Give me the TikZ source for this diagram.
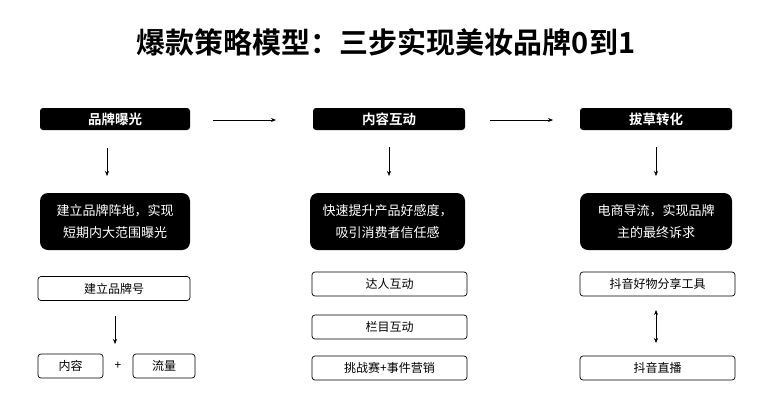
\documentclass[tikz,border=0pt]{standalone}
\usepackage{fontspec}
\setmainfont{Noto Sans CJK SC}
\newfontfamily\cjkb{Noto Sans CJK SC Bold}
\usetikzlibrary{arrows.meta}
\begin{document}
\begin{tikzpicture}[x=1pt,y=-1pt,
 hdr/.style={fill=black,rounded corners=3pt,text=white,font=\cjkb\fontsize{13.5}{15}\selectfont,minimum height=22pt,inner sep=0pt},
 blk/.style={fill=black,rounded corners=8pt,text=white,font=\fontsize{13}{22}\selectfont,minimum height=57pt,inner sep=0pt,align=center},
 wbox/.style={draw=black,line width=0.7pt,rounded corners=3pt,font=\fontsize{12}{14}\selectfont,minimum height=24pt,inner sep=0pt},
 arr/.style={-{Stealth[length=5pt,width=4pt]},line width=0.6pt}]
\useasboundingbox (0,0) rectangle (776,400);
\node[font=\cjkb\fontsize{29}{32}\selectfont] (title) at (386,42) {爆款策略模型：三步实现美妆品牌0到1};
% column 1
\node[hdr,minimum width=150pt] (h1) at (115,119) {品牌曝光};
\node[blk,minimum width=150pt] (b1) at (115,221.5) {建立品牌阵地，实现\\短期内大范围曝光};
\node[wbox,minimum width=152pt] (w1) at (114,288.5) {建立品牌号};
\node[wbox,minimum width=65pt] (nr) at (70.5,366) {内容};
\node[font=\fontsize{12}{14}\selectfont] (plus) at (118,366) {+};
\node[wbox,minimum width=62pt] (ll) at (164,366) {流量};
\coordinate (a1s) at (107,148); \coordinate (a1e) at (107,176);
\draw[arr] (a1s) -- (a1e);
\coordinate (a2s) at (115,316); \coordinate (a2e) at (115,344);
\draw[arr] (a2s) -- (a2e);
% column 2
\node[hdr,minimum width=152pt] (h2) at (389,119) {内容互动};
\node[blk,minimum width=155pt] (b2) at (387.5,221.5) {快速提升产品好感度，\\吸引消费者信任感};
\node[wbox,minimum width=155pt] (w21) at (389.5,284) {达人互动};
\node[wbox,minimum width=155pt] (w22) at (389.5,327) {栏目互动};
\node[wbox,minimum width=155pt] (w23) at (389.5,368) {挑战赛+事件营销};
\coordinate (a3s) at (389,147); \coordinate (a3e) at (389,176);
\draw[arr] (a3s) -- (a3e);
% column 3
\node[hdr,minimum width=152pt] (h3) at (656,119) {拔草转化};
\node[blk,minimum width=152pt] (b3) at (656,221.5) {电商导流，实现品牌\\主的最终诉求};
\node[wbox,minimum width=155pt] (w31) at (657.5,284) {抖音好物分享工具};
\node[wbox,minimum width=155pt] (w32) at (657.5,368) {抖音直播};
\coordinate (a4s) at (656,147); \coordinate (a4e) at (656,176);
\draw[arr] (a4s) -- (a4e);
\coordinate (a5s) at (656,310); \coordinate (a5e) at (656,343);
\draw[arr,{Stealth[length=5pt,width=4pt]}-{Stealth[length=5pt,width=4pt]}] (a5s) -- (a5e);
% horizontal
\coordinate (h1s) at (213,120); \coordinate (h1e) at (276,120);
\draw[arr] (h1s) -- (h1e);
\coordinate (h2s) at (490,120); \coordinate (h2e) at (553,120);
\draw[arr] (h2s) -- (h2e);
\end{tikzpicture}
\end{document}
